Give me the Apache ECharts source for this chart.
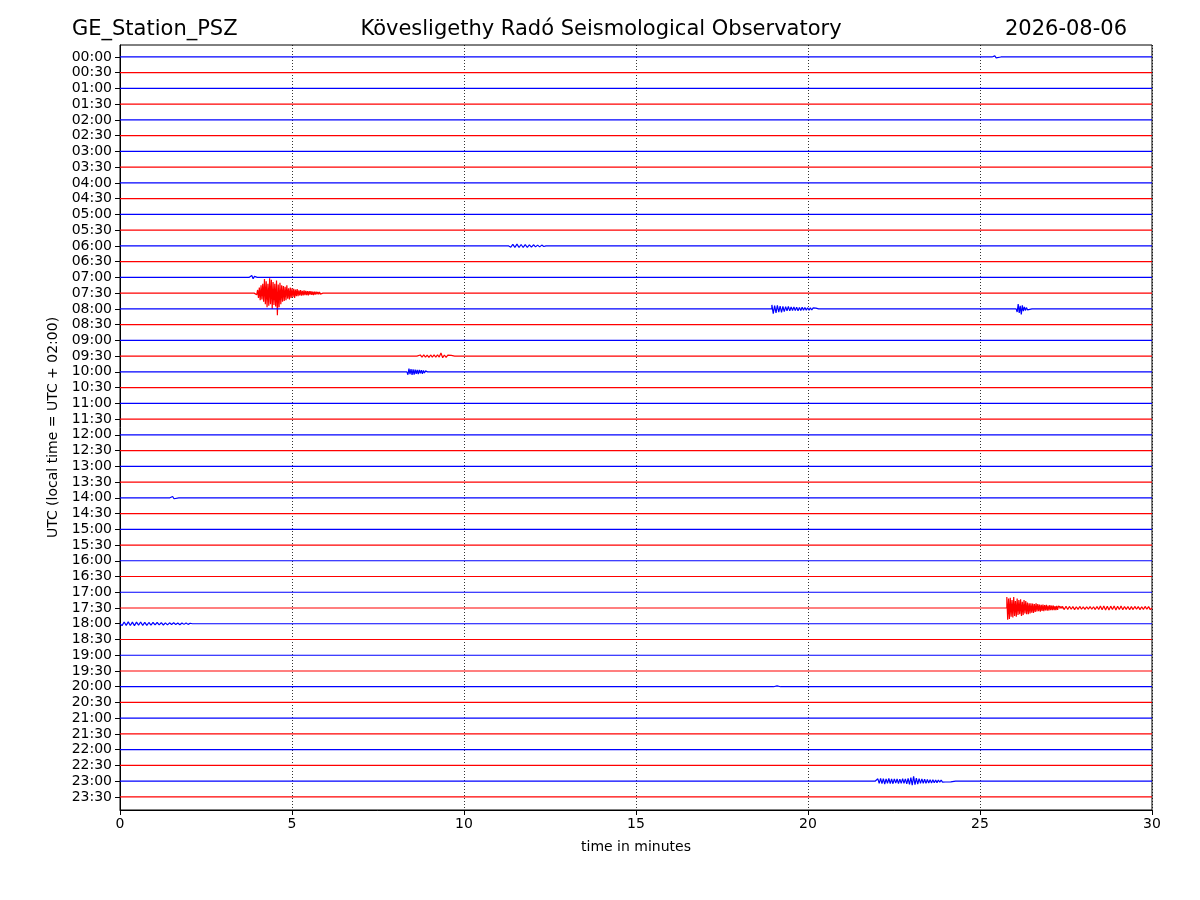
<!DOCTYPE html>
<html><head><meta charset="utf-8">
<script src="https://cdn.jsdelivr.net/npm/echarts@6/dist/echarts.min.js"></script>
<style>html,body{margin:0;padding:0;background:#fff}#c{width:1200px;height:900px}</style>
</head><body><div id="c"></div>
<script>
const timeLabels = ['00:00','00:30','01:00','01:30','02:00','02:30','03:00','03:30','04:00','04:30','05:00','05:30',
'06:00','06:30','07:00','07:30','08:00','08:30','09:00','09:30','10:00','10:30','11:00','11:30',
'12:00','12:30','13:00','13:30','14:00','14:30','15:00','15:30','16:00','16:30','17:00','17:30',
'18:00','18:30','19:00','19:30','20:00','20:30','21:00','21:30','22:00','22:30','23:00','23:30'];
const xTicks = [0,5,10,15,20,25,30];
const traceColors = ['#0000ff','#ff0000'];

// events: row index, start minute, sample step (minutes), amplitudes (trace spacing units, + = up)
const ev0730 = {row:15, start:3.90, step:0.025, amp:[0.05,-0.06,0.08,-0.1,
 0.2,-0.3,0.35,-0.45,0.5,-0.4,0.6,-0.55,
 0.9,-0.7,0.75,-0.9,0.6,-0.8,0.95,-0.7,0.85,-1.0,0.7,-0.75,0.6,-0.85,0.8,-1.4,0.55,-0.9,0.65,-0.7,
 0.5,-0.55,0.45,-0.5,0.4,-0.45,0.5,-0.35,0.3,-0.4,0.35,-0.3,0.3,-0.25,0.28,-0.3,0.22,-0.2,0.25,-0.2,
 0.18,-0.15,0.2,-0.16,0.15,-0.14,0.17,-0.12,0.14,-0.13,0.12,-0.15,0.13,-0.1,0.12,-0.11,0.1,-0.12,0.1,-0.09,0.1,-0.08,0.08,-0.07,0.07,-0.06,0.06,-0.05]};
const ev1730a = {row:35, start:25.78, step:0.025, amp:[0.7,-0.75,0.6,-0.7,0.65,-0.55,0.5,-0.6,0.7,-0.5,0.45,-0.55,0.6,-0.45,0.5,-0.4,0.55,-0.5,0.4,-0.45,0.5,-0.35,0.45,-0.4,0.35,-0.4,0.3,
 -0.35,0.3,-0.3,0.28,-0.32,0.25,-0.25,0.3,-0.22,0.25,-0.2,0.22,-0.24,0.2,-0.18,0.22,-0.2,0.18,-0.16,0.2,-0.17,0.15,-0.16,0.18,-0.14,0.15,-0.13,0.16,-0.14,0.12,-0.13,0.14,-0.12,0.12]};
const ev1730b = {row:35, start:27.30, step:0.05, amp:[0.1,-0.11,0.09,-0.1,0.11,-0.09,0.1,-0.08,0.09,-0.1,
 0.08,-0.09,0.1,-0.08,0.07,-0.09,0.08,-0.07,0.09,-0.08,0.08,-0.1,0.1,-0.09,0.12,-0.11,0.13,-0.12,0.11,-0.13,
 0.12,-0.1,0.13,-0.12,0.11,-0.1,0.12,-0.11,0.1,-0.09,0.1,-0.11,0.09,-0.1,0.1,-0.08,0.09,-0.1,0.08,-0.09,0.1,-0.08,0.09,-0.1]};
const ev0800a = {row:16, start:18.95, step:0.04, amp:[0.25,-0.3,0.2,-0.25,0.22,-0.2,0.18,-0.22,0.15,-0.18,0.14,-0.12,0.15,-0.13,0.12,-0.1,0.12,-0.11,0.1,-0.12,0.09,-0.1,0.1,-0.08,0.09,-0.08,0.07,-0.08,0.06,-0.07,0.06,-0.05,0.05,-0.04]};
const ev0800b = {row:16, start:26.05, step:0.03, amp:[0.1,-0.2,0.3,-0.25,0.2,-0.35,0.22,-0.15,0.12,-0.1,0.08,-0.06]};
const ev2300 = {row:46, start:21.95, step:0.04, amp:[0.08,-0.12,0.15,-0.14,0.18,-0.15,0.16,-0.18,0.15,-0.13,0.17,-0.15,0.14,-0.16,0.15,-0.12,0.14,-0.15,0.13,-0.14,0.16,-0.13,0.15,-0.17,0.18,-0.2,0.22,-0.25,0.3,-0.22,0.2,-0.18,0.16,-0.14,0.15,-0.13,0.12,-0.14,0.11,-0.12,0.1,-0.11,0.09,-0.1,0.08,-0.09,0.08,-0.07,0.07,-0.06,0.06,-0.05,0.05,-0.05,0.04,-0.04]};
const ev1000 = {row:20, start:8.34, step:0.03, amp:[0.12,-0.18,0.2,-0.15,0.18,-0.2,0.15,-0.17,0.14,-0.12,0.13,-0.15,0.12,-0.1,0.1,-0.12,0.09,-0.08,0.06,-0.05]};
const ev0930 = {row:19, start:8.63, step:0.05, amp:[0.05,-0.06,0.07,-0.06,0.08,-0.07,0.06,-0.08,0.07,-0.06,0.08,-0.07,0.08,-0.06,0.2,-0.1,0.07,-0.08,0.06,-0.05,0.05,-0.04]};
const ev0700 = {row:14, start:3.75, step:0.04, amp:[0.08,-0.1,0.12,-0.08,0.06,-0.05]};
const ev0600 = {row:12, start:11.3, step:0.06, amp:[0.06,-0.08,0.1,-0.09,0.11,-0.1,0.09,-0.1,0.08,-0.09,0.07,-0.08,0.07,-0.06,0.05,-0.06,0.05,-0.04]};
const ev1800 = {row:36, start:0.0, step:0.06, amp:[0.1,-0.12,0.11,-0.1,0.12,-0.11,0.1,-0.12,0.1,-0.09,0.11,-0.1,0.09,-0.1,0.08,-0.09,0.08,-0.07,0.08,-0.07,0.07,-0.08,0.06,-0.07,0.06,-0.05,0.06,-0.05,0.05,-0.06,0.05,-0.04,0.05,-0.04,0.03]};
const ev1400 = {row:28, start:1.45, step:0.04, amp:[0.08,-0.1,0.08,-0.06]};
const ev0000 = {row:0, start:25.35, step:0.04, amp:[0.06,-0.08,0.07,-0.06]};
const ev2000 = {row:40, start:19.0, step:0.05, amp:[0.06,-0.07,0.05,-0.04]};
const events = [ev0730,ev1730a,ev1730b,ev0800a,ev0800b,ev2300,ev1000,ev0930,ev0700,ev0600,ev1800,ev1400,ev0000,ev2000];

const rowIdx = timeLabels.map((_, i) => i);
const series = rowIdx.map(r => {
  const data = [[0, r]];
  events.filter(e => e.row === r).sort((a, b) => a.start - b.start).forEach(e => {
    data.push([e.start, r]);
    e.amp.forEach((a, i) => data.push([e.start + i * e.step, r - a]));
    const end = e.start + e.amp.length * e.step;
    data.push([end, r]);
    if (end + 0.1 < 30) data.push([end + 0.1, r]);
  });
  data.push([30, r]);
  return {type:'line', data, symbol:'none', silent:true, animation:false,
    lineStyle:{color:traceColors[r % 2], width:1.2}, clip:true};
});

const FF = 'DejaVu Sans';
const titleStyle = {fontFamily:FF, fontSize:21, fontWeight:'normal', color:'#000'};
const chart = echarts.init(document.getElementById('c'));
chart.setOption({
  animation:false,
  backgroundColor:'#fff',
  textStyle:{fontFamily:FF},
  title:[
    {text:'GE_Station_PSZ', left:72, top:19, padding:0, textStyle:titleStyle},
    {text:'Kövesligethy Radó Seismological Observatory', left:601, top:19, padding:0, textAlign:'center', textStyle:titleStyle},
    {text:'2026-08-06', right:73, top:19, padding:0, textStyle:titleStyle}
  ],
  grid:{left:120, right:48, top:45, bottom:90, show:true, borderColor:'#000', borderWidth:1, containLabel:false},
  xAxis:{type:'value', min:0, max:30, interval:5,
    axisLine:{show:true, onZero:false, lineStyle:{color:'#000'}},
    axisTick:{show:true, length:5, lineStyle:{color:'#000'}},
    axisLabel:{color:'#000', fontSize:14, margin:7, fontFamily:FF, customValues:xTicks},
    splitLine:{show:true, lineStyle:{color:'#000', width:0.8, type:[1,2]}},
    name:'time in minutes', nameLocation:'middle', nameGap:30,
    nameTextStyle:{color:'#000', fontSize:14, fontFamily:FF}},
  yAxis:{type:'value', inverse:true, min:-0.76, max:47.83,
    axisLine:{show:true, onZero:false, lineStyle:{color:'#000'}},
    axisTick:{show:true, length:5, customValues:rowIdx, lineStyle:{color:'#000'}},
    axisLabel:{color:'#000', fontSize:14, margin:8, fontFamily:FF, customValues:rowIdx,
      formatter:v => timeLabels[Math.round(v)]},
    splitLine:{show:false},
    name:'UTC (local time = UTC + 02:00)', nameLocation:'middle', nameGap:52, nameRotate:90,
    nameTextStyle:{color:'#000', fontSize:14, fontFamily:FF}},
  series
});
</script></body></html>
